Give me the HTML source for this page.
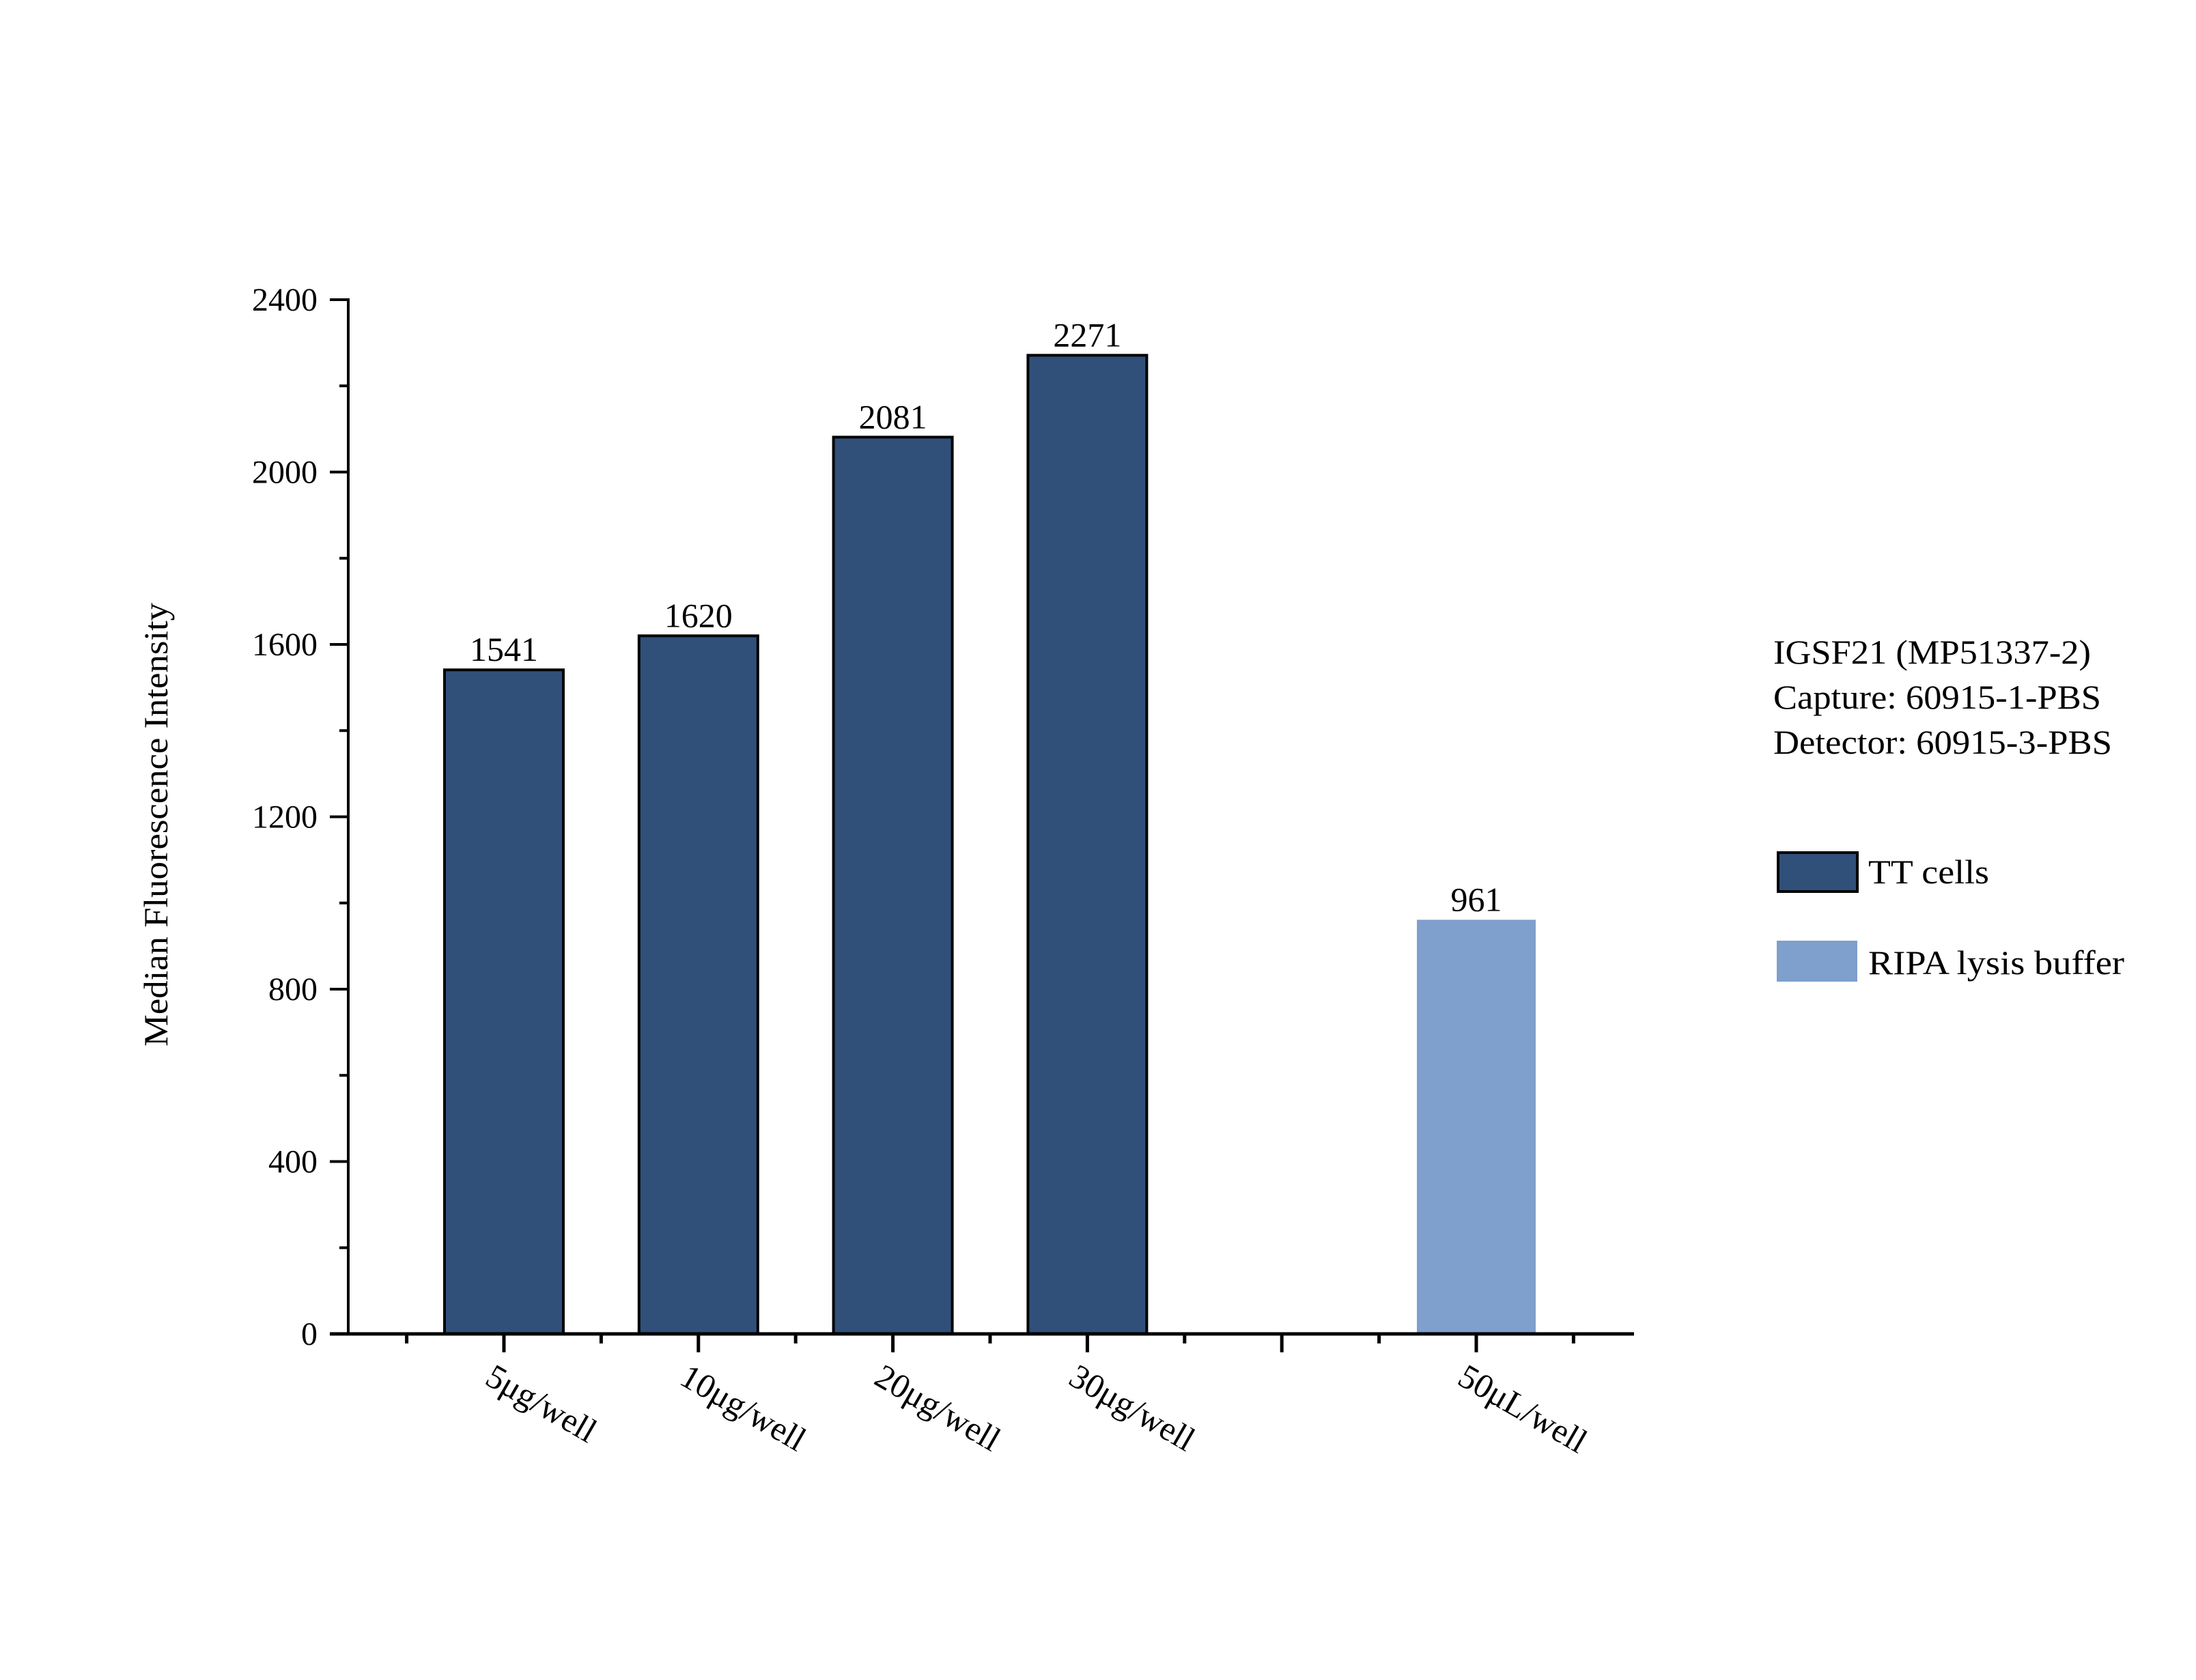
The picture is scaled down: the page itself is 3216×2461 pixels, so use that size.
<!DOCTYPE html>
<html><head><meta charset="utf-8"><style>
html,body{margin:0;padding:0;background:#fff;}
svg{display:block;}
text{font-family:"Liberation Serif",serif;fill:#000;}
</style></head><body>
<svg id="chart" width="3216" height="2461" viewBox="0 0 3216 2461" xmlns="http://www.w3.org/2000/svg">
<g id="plot"></g>
<text transform="translate(245,1208) rotate(-90)" text-anchor="middle" font-size="50" textLength="650" lengthAdjust="spacingAndGlyphs">Median Fluorescence Intensity</text>
<g>
<text x="2597" y="972" font-size="50" textLength="465" lengthAdjust="spacingAndGlyphs">IGSF21 (MP51337-2)</text>
<text x="2597" y="1038" font-size="50" textLength="480" lengthAdjust="spacingAndGlyphs">Capture: 60915-1-PBS</text>
<text x="2597" y="1104" font-size="50" textLength="496" lengthAdjust="spacingAndGlyphs">Detector: 60915-3-PBS</text>
</g>
<g>
<rect x="2604" y="1249" width="116" height="57" fill="#30507a" stroke="#000" stroke-width="4"/>
<text x="2736" y="1294" font-size="50" textLength="177" lengthAdjust="spacingAndGlyphs">TT cells</text>
<rect x="2602" y="1378" width="118" height="60" fill="#7f9fcc"/>
<text x="2736" y="1427" font-size="50" textLength="375" lengthAdjust="spacingAndGlyphs">RIPA lysis buffer</text>
</g>
</svg>
<script>
const categories = ["5μg/well","10μg/well","20μg/well","30μg/well","","50μL/well"];
const values = [1541,1620,2081,2271,null,961];
const seriesIdx = [0,0,0,0,null,1];
const yTicks = [0,400,800,1200,1600,2000,2400];
const yMinorTicks = [200,600,1000,1400,1800,2200];
const seriesColors = ["#30507a","#7f9fcc"];

const NS = "http://www.w3.org/2000/svg";
const g = document.getElementById('plot');
const X0 = 510, Y0 = 1954, YTOP = 439, XEND = 2393;
const yScale = v => Y0 - v * (Y0 - YTOP) / 2400;
const xScale = i => 738 + i * 284.8;
const BW = 174;

function mk(tag, attrs){ const e = document.createElementNS(NS, tag); for (const k in attrs) e.setAttribute(k, attrs[k]); g.appendChild(e); return e; }

// bars
values.forEach((v,i)=>{
  if (v === null) return;
  const y = yScale(v);
  const r = mk('rect',{x:xScale(i)-BW/2,y:y,width:BW,height:Y0-y,fill:seriesColors[seriesIdx[i]],stroke:seriesIdx[i]===0?'#000':'none','stroke-width':4});
  
  
  const t = mk('text',{x:xScale(i),y:y-13,'text-anchor':'middle','font-size':50});
  t.textContent = String(v);
  
  
});

// axes
const ya = mk('line',{x1:X0,y1:YTOP-2,x2:X0,y2:Y0+2,stroke:'#000','stroke-width':4});


const xa = mk('line',{x1:X0-27,y1:Y0,x2:XEND,y2:Y0,stroke:'#000','stroke-width':5});



yTicks.forEach(v=>{
  const y = yScale(v);
  const l = mk('line',{x1:X0-27,y1:y,x2:X0,y2:y,stroke:'#000','stroke-width':4});
  
  
  const t = mk('text',{x:465,y:y+16,'text-anchor':'end','font-size':48});
  t.textContent = String(v);
  
  
});
yMinorTicks.forEach(v=>{
  const y = yScale(v);
  const l = mk('line',{x1:X0-13,y1:y,x2:X0,y2:y,stroke:'#000','stroke-width':4});
  
  
});
categories.forEach((c,i)=>{
  const x = xScale(i);
  const l = mk('line',{x1:x,y1:Y0,x2:x,y2:Y0+27,stroke:'#000','stroke-width':5});
  
  
  const xm = x - 142.4;
  const m = mk('line',{x1:xm,y1:Y0,x2:xm,y2:Y0+14,stroke:'#000','stroke-width':5});
  
  
  if (i === categories.length - 1) {
    const m2 = mk('line',{x1:x+142.4,y1:Y0,x2:x+142.4,y2:Y0+14,stroke:'#000','stroke-width':5});
    
    
  }
  if (c) {
    const t = mk('text',{transform:`translate(${x-30},${Y0+72}) rotate(30)`,'font-size':50});
    t.textContent = c;
    
    
  }
});
</script>
</body></html>
